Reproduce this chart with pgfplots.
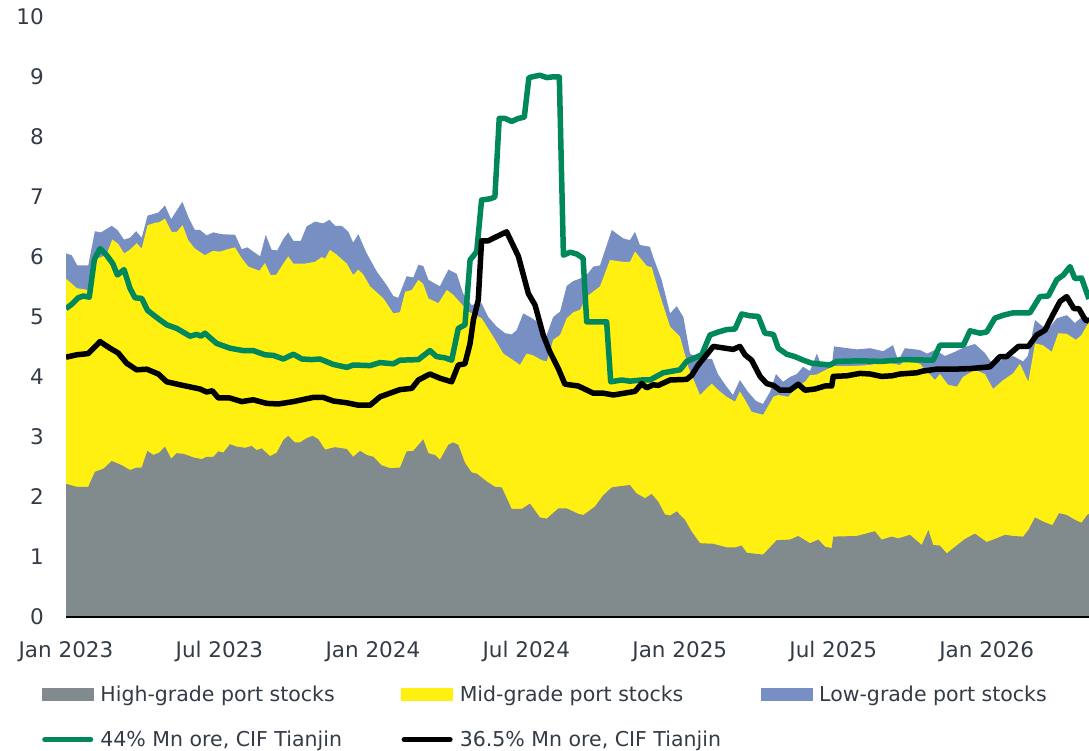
\documentclass[border=0pt]{standalone}
\usepackage{pgfplots}
\pgfplotsset{compat=1.18}
\usepackage{fontspec}
\setmainfont{DejaVu Sans}
\definecolor{hgray}{HTML}{818A8D}
\definecolor{myellow}{HTML}{FFF012}
\definecolor{lblue}{HTML}{788FC3}
\definecolor{mgreen}{HTML}{00875A}
\definecolor{txt}{HTML}{333C46}

\begin{document}
\begin{tikzpicture}
\useasboundingbox (0,0) rectangle (1089bp,751bp);
\begin{axis}[
  name=ax,
  at={(66bp,134bp)}, anchor=south west,
  scale only axis, width=1023bp, height=600bp,
  xmin=0, xmax=40, ymin=0, ymax=10,
  axis on top,
  axis x line=bottom, axis y line=left,
  x axis line style={-, draw=black, line width=1.8bp},
  y axis line style={draw=none},
  xtick={0,6,...,36},
  xticklabels={Jan 2023,Jul 2023,Jan 2024,Jul 2024,Jan 2025,Jul 2025,Jan 2026},
  ytick={0,1,...,10},
  major tick length=0pt,
  /pgf/number format/assume math mode=true,
  tick label style={font=\fontsize{21.5bp}{26bp}\selectfont, text=txt, inner sep=0pt},
  xticklabel style={anchor=north, yshift=-24bp},
  yticklabel style={anchor=east, xshift=-22bp},
  legend columns=3,
  legend style={at={(axis description cs:-0.02346,-0.1150)}, anchor=north west,
    draw=none, fill=none, inner sep=0pt, outer sep=0pt,
    font=\fontsize{20.5bp}{24bp}\selectfont, text=txt,
    nodes={inner sep=0pt}, row sep=28bp,
    /tikz/every odd column/.append style={column sep=7bp}},
]
% Low-grade (total of the three stocks)
\addplot[fill=lblue, draw=none, forget plot] table {
x y
0 6.06
0.22 6.03
0.44 5.86
0.87 5.86
1.13 6.43
1.37 6.41
1.79 6.52
2.01 6.45
2.27 6.29
2.50 6.32
2.74 6.43
2.96 6.32
3.19 6.69
3.61 6.74
3.87 6.86
4.11 6.63
4.55 6.92
4.81 6.64
5.04 6.45
5.24 6.45
5.50 6.36
5.76 6.41
6.09 6.38
6.61 6.37
6.87 6.13
7.09 6.16
7.59 6.01
7.81 6.37
8.04 6.12
8.26 6.11
8.50 6.30
8.69 6.41
8.89 6.27
9.18 6.27
9.41 6.51
9.74 6.59
10.06 6.56
10.30 6.62
10.52 6.52
10.78 6.52
11.04 6.42
11.23 6.24
11.43 6.38
11.76 6.06
12.15 5.76
12.54 5.53
12.80 5.35
12.99 5.32
13.32 5.68
13.58 5.66
13.78 5.87
13.97 5.85
14.17 5.62
14.62 5.51
14.95 5.79
15.28 5.72
15.53 5.39
15.86 5.20
16.25 5.23
16.51 5.00
16.84 4.84
17.17 4.73
17.43 4.71
17.62 4.78
17.88 5.06
18.14 5.00
18.40 4.93
18.73 4.62
19.05 5.00
19.32 5.09
19.58 5.52
19.84 5.60
20.10 5.64
20.36 5.70
20.62 5.84
20.88 5.86
21.34 6.45
21.79 6.31
22.05 6.28
22.25 6.42
22.44 6.20
22.83 6.17
22.96 6.00
23.29 5.62
23.62 5.06
23.88 5.18
24.14 5.00
24.40 4.39
24.79 4.30
25.26 4.30
25.49 4.05
25.81 3.85
26.08 3.70
26.35 3.95
26.67 3.75
26.98 3.60
27.25 3.55
27.53 3.75
27.76 4.05
28.04 3.92
28.31 4.00
28.58 4.05
28.82 4.17
29.09 4.10
29.36 4.39
29.56 4.17
29.79 4.25
29.95 4.20
30.03 4.51
30.93 4.46
31.44 4.48
31.95 4.43
32.34 4.53
32.54 4.27
32.80 4.48
33.39 4.45
33.67 4.39
33.98 4.45
34.37 4.35
34.76 4.42
35.15 4.50
35.54 4.55
35.93 4.40
36.25 4.20
36.64 4.30
37.03 4.35
37.42 4.26
37.61 4.35
37.89 4.95
38.20 4.84
38.48 4.84
38.75 4.98
39.14 5.03
39.45 4.90
39.73 5.00
40.00 5.00
} \closedcycle;
% Mid-grade (cumulative with high-grade)
\addplot[fill=myellow, draw=none, forget plot] table {
x y
0 5.64
0.42 5.48
0.87 5.45
1.20 5.98
1.40 6.00
1.59 6.05
1.81 6.29
2.04 6.22
2.27 6.06
2.50 6.12
2.76 6.23
2.96 6.14
3.19 6.53
3.48 6.57
3.65 6.58
3.87 6.64
4.13 6.42
4.33 6.42
4.56 6.53
4.78 6.28
5.04 6.14
5.43 6.03
5.74 6.10
6.02 6.09
6.41 6.14
6.61 6.16
6.87 5.98
7.13 5.84
7.56 5.77
7.78 5.90
8.00 5.70
8.21 5.70
8.47 5.87
8.69 6.01
8.89 5.89
9.35 5.89
9.74 5.92
10.00 6.00
10.13 5.97
10.32 6.12
10.58 6.04
10.98 5.89
11.23 5.70
11.43 5.79
11.62 5.71
11.89 5.51
12.41 5.31
12.80 5.06
13.06 5.08
13.26 5.42
13.52 5.45
13.78 5.62
13.97 5.55
14.17 5.31
14.56 5.23
14.89 5.45
15.14 5.37
15.73 5.09
16.25 4.98
16.71 4.67
17.10 4.39
17.49 4.28
17.75 4.20
18.01 4.39
18.27 4.36
18.60 4.28
18.80 4.26
19.05 4.62
19.32 4.70
19.58 4.98
19.84 5.08
20.10 5.12
20.36 5.34
20.88 5.51
21.27 5.95
21.79 5.92
22.05 5.92
22.25 6.09
22.71 5.85
22.90 5.83
23.16 5.45
23.62 4.84
24.01 4.67
24.33 4.17
24.79 3.70
25.25 3.89
25.51 3.78
25.83 3.67
26.16 3.59
26.35 3.76
26.55 3.62
26.81 3.42
27.26 3.37
27.66 3.67
27.85 3.70
28.24 3.67
28.57 3.84
28.90 3.92
29.09 4.03
29.35 4.04
29.81 4.14
30.00 4.18
30.65 4.18
31.44 4.20
32.02 4.25
32.61 4.20
32.81 4.28
33.39 4.22
33.98 3.95
34.17 4.05
34.49 3.87
34.84 3.84
35.07 4.00
35.54 4.12
35.93 4.05
36.25 3.80
36.65 3.95
37.03 4.06
37.30 4.22
37.63 3.92
37.89 4.56
38.20 4.53
38.54 4.42
38.80 4.73
39.13 4.72
39.49 4.62
39.71 4.70
40.00 4.92
} \closedcycle;
% High-grade
\addplot[fill=hgray, draw=none, forget plot] table {
x y
0 2.22
0.42 2.17
0.87 2.17
1.13 2.42
1.46 2.47
1.79 2.60
2.18 2.53
2.50 2.45
2.76 2.49
2.96 2.49
3.18 2.77
3.41 2.70
3.65 2.74
3.87 2.84
4.11 2.64
4.33 2.73
4.59 2.72
4.98 2.66
5.31 2.63
5.50 2.67
5.76 2.67
5.96 2.76
6.15 2.74
6.41 2.88
6.67 2.84
7.00 2.82
7.26 2.85
7.46 2.78
7.65 2.81
7.98 2.68
8.24 2.74
8.50 2.95
8.69 3.02
8.95 2.91
9.15 2.91
9.41 2.98
9.65 3.02
9.87 2.96
10.13 2.79
10.52 2.83
10.98 2.80
11.23 2.67
11.50 2.77
11.76 2.70
12.02 2.67
12.34 2.53
12.67 2.48
13.06 2.49
13.32 2.76
13.58 2.77
13.97 2.96
14.17 2.73
14.43 2.70
14.62 2.62
14.95 2.87
15.14 2.91
15.34 2.87
15.60 2.57
15.86 2.41
16.06 2.39
16.45 2.26
16.77 2.17
17.04 2.16
17.43 1.80
17.82 1.80
18.14 1.89
18.53 1.66
18.80 1.64
19.25 1.81
19.58 1.81
20.03 1.72
20.23 1.70
20.68 1.84
21.01 2.03
21.34 2.16
21.66 2.18
22.05 2.20
22.31 2.06
22.64 1.98
22.90 2.05
23.16 1.92
23.42 1.71
23.62 1.69
23.88 1.76
24.20 1.62
24.47 1.42
24.79 1.23
25.31 1.22
25.83 1.16
26.16 1.16
26.42 1.19
26.62 1.07
27.26 1.04
27.79 1.28
28.31 1.29
28.63 1.35
29.09 1.23
29.42 1.29
29.68 1.17
29.94 1.15
30.00 1.34
30.92 1.35
31.63 1.43
31.89 1.29
32.29 1.34
32.54 1.31
33.00 1.37
33.46 1.20
33.72 1.45
33.91 1.20
34.17 1.19
34.44 1.06
34.76 1.17
35.15 1.30
35.54 1.39
36.00 1.25
36.32 1.30
36.72 1.37
37.04 1.35
37.43 1.34
37.63 1.45
37.89 1.66
38.21 1.59
38.57 1.53
38.83 1.73
39.13 1.70
39.45 1.62
39.71 1.57
39.93 1.70
40.00 1.72
} \closedcycle;
% 44% Mn ore, CIF Tianjin
\addplot[mgreen, line width=5.5bp, line join=round, forget plot] table {
x y
0 5.14
0.22 5.21
0.48 5.32
0.68 5.35
0.91 5.33
1.11 5.96
1.33 6.14
1.59 6.03
1.83 5.89
2.01 5.70
2.27 5.79
2.50 5.48
2.70 5.32
2.96 5.31
3.19 5.11
3.55 4.99
3.94 4.87
4.33 4.81
4.85 4.68
5.11 4.71
5.28 4.68
5.43 4.73
5.89 4.56
6.41 4.48
6.93 4.44
7.32 4.44
7.78 4.37
8.11 4.36
8.50 4.30
8.89 4.38
9.22 4.30
9.61 4.29
9.93 4.30
10.45 4.21
10.98 4.16
11.23 4.20
11.89 4.19
12.28 4.24
12.80 4.22
13.06 4.28
13.78 4.29
14.23 4.44
14.49 4.34
14.82 4.32
15.08 4.28
15.34 4.81
15.60 4.87
15.80 5.95
16.06 6.09
16.25 6.95
16.58 6.97
16.77 7.00
16.94 8.31
17.16 8.31
17.43 8.26
17.69 8.31
17.92 8.33
18.10 8.99
18.53 9.03
18.80 8.99
18.99 9.00
19.29 9.00
19.45 6.03
19.71 6.08
19.97 6.05
20.22 5.98
20.36 4.92
21.14 4.92
21.30 3.92
21.73 3.95
22.05 3.93
22.51 3.95
22.83 3.95
23.35 4.07
24.01 4.12
24.27 4.26
24.86 4.37
25.18 4.70
25.51 4.75
25.83 4.79
26.16 4.80
26.42 5.05
26.74 5.02
27.07 5.01
27.33 4.73
27.66 4.71
27.85 4.48
28.18 4.38
28.50 4.34
28.83 4.28
29.16 4.23
29.87 4.20
30.13 4.26
31.05 4.27
31.89 4.26
32.74 4.29
33.91 4.28
34.17 4.53
35.09 4.53
35.35 4.77
35.74 4.73
36.00 4.75
36.32 4.98
36.65 5.03
37.04 5.07
37.69 5.07
38.08 5.34
38.41 5.35
38.74 5.62
39.00 5.70
39.26 5.84
39.45 5.64
39.71 5.65
40.00 5.30
};
% 36.5% Mn ore, CIF Tianjin
\addplot[black, line width=5.5bp, line join=round, forget plot] table {
x y
0 4.33
0.42 4.37
0.87 4.39
1.33 4.59
1.72 4.48
2.04 4.40
2.37 4.23
2.76 4.12
3.16 4.13
3.61 4.05
3.94 3.92
4.46 3.87
5.24 3.80
5.50 3.75
5.72 3.77
5.96 3.65
6.41 3.65
6.87 3.59
7.32 3.62
7.85 3.56
8.30 3.55
8.89 3.59
9.67 3.66
10.06 3.66
10.45 3.60
10.98 3.57
11.43 3.53
11.89 3.53
12.28 3.67
12.67 3.73
13.06 3.79
13.52 3.81
13.78 3.95
14.23 4.05
14.62 3.98
15.08 3.92
15.34 4.20
15.60 4.22
15.80 4.56
15.93 4.95
16.12 5.28
16.25 6.27
16.51 6.27
16.84 6.34
17.23 6.42
17.69 6.01
18.08 5.39
18.34 5.20
18.66 4.70
18.92 4.42
19.25 4.14
19.51 3.88
20.03 3.85
20.62 3.73
21.01 3.73
21.40 3.70
22.25 3.76
22.51 3.89
22.71 3.82
22.96 3.87
23.16 3.86
23.62 3.95
24.27 3.96
24.47 4.03
24.72 4.20
24.99 4.34
25.31 4.51
25.77 4.48
26.09 4.46
26.35 4.51
26.55 4.37
26.81 4.28
27.14 4.01
27.40 3.89
27.66 3.86
27.92 3.78
28.31 3.78
28.63 3.88
28.90 3.78
29.29 3.80
29.68 3.85
29.94 3.85
30.00 4.01
30.53 4.02
31.05 4.06
31.44 4.05
31.89 4.01
32.29 4.02
32.61 4.05
33.26 4.07
33.52 4.10
34.04 4.13
34.69 4.13
35.35 4.14
36.13 4.17
36.52 4.34
36.78 4.34
37.24 4.51
37.63 4.51
37.96 4.70
38.28 4.78
38.58 5.03
38.87 5.26
39.13 5.34
39.41 5.14
39.60 5.14
39.86 4.95
40.00 4.93
};
% legend
\addlegendimage{legend image code/.code={\fill[hgray] (0bp,-6bp) rectangle (51bp,6bp);}}
\addlegendentry{\makebox[301bp][l]{\rule[-4bp]{0pt}{19bp}High-grade port stocks}}
\addlegendimage{legend image code/.code={\fill[myellow] (0bp,-6bp) rectangle (51bp,6bp);}}
\addlegendentry{\makebox[301bp][l]{\rule[-4bp]{0pt}{19bp}Mid-grade port stocks}}
\addlegendimage{legend image code/.code={\fill[lblue] (0bp,-6bp) rectangle (51bp,6bp);}}
\addlegendentry{\makebox[260bp][l]{\rule[-4bp]{0pt}{19bp}Low-grade port stocks}}
\addlegendimage{legend image code/.code={\draw[mgreen, line width=5bp, line cap=round] (2.5bp,0) -- (48.5bp,0);}}
\addlegendentry{\makebox[301bp][l]{\rule[-4bp]{0pt}{19bp}44\% Mn ore, CIF Tianjin}}
\addlegendimage{legend image code/.code={\draw[black, line width=5bp, line cap=round] (2.5bp,0) -- (48.5bp,0);}}
\addlegendentry{\makebox[301bp][l]{\rule[-4bp]{0pt}{19bp}36.5\% Mn ore, CIF Tianjin}}
\end{axis}
\draw[black, line width=2.2bp] (ax.south west) -- (ax.south east);
\end{tikzpicture}
\end{document}
